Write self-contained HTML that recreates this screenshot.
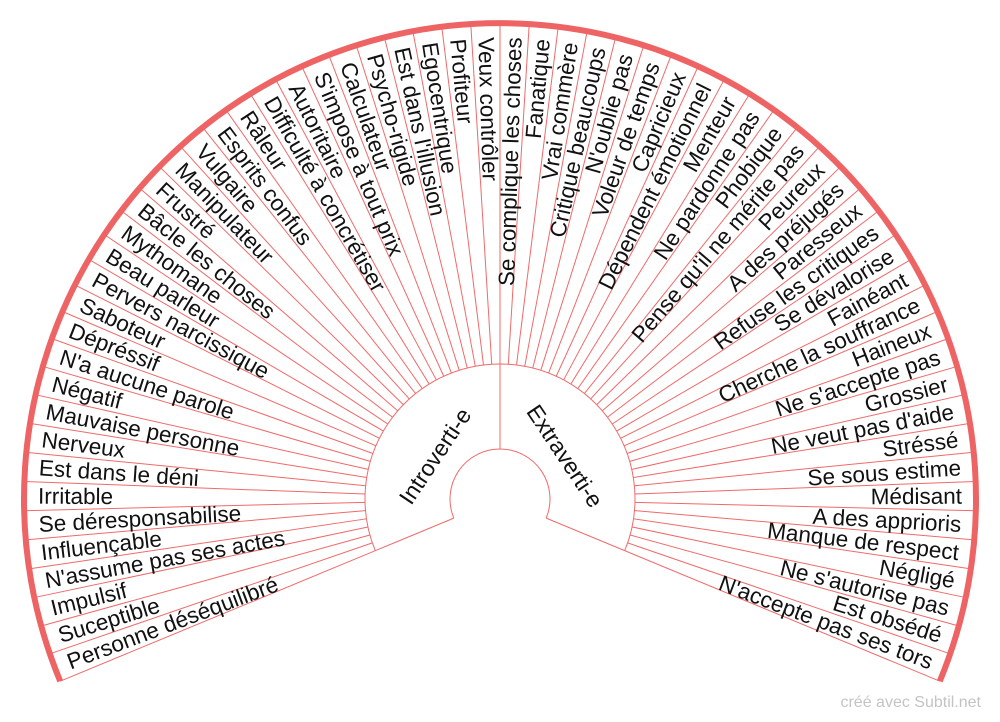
<!DOCTYPE html>
<html><head><meta charset="utf-8"><style>
html,body{margin:0;padding:0;background:#fff;}
svg{display:block;}
text{font-family:"Liberation Sans",Arial,sans-serif;fill:#111;}
.l{font-size:22.5px;dominant-baseline:central;}
</style></head><body>
<svg width="1000" height="722" viewBox="0 0 1000 722" xmlns="http://www.w3.org/2000/svg">
<g transform="translate(500,499)" stroke="#f06a6a" stroke-width="1">
<line x1="50" x2="476" transform="rotate(22.5)"/>
<line x1="135" x2="476" transform="rotate(18.98)"/>
<line x1="135" x2="476" transform="rotate(15.47)"/>
<line x1="135" x2="476" transform="rotate(11.95)"/>
<line x1="135" x2="476" transform="rotate(8.44)"/>
<line x1="135" x2="476" transform="rotate(4.92)"/>
<line x1="135" x2="476" transform="rotate(1.41)"/>
<line x1="135" x2="476" transform="rotate(-2.11)"/>
<line x1="135" x2="476" transform="rotate(-5.63)"/>
<line x1="135" x2="476" transform="rotate(-9.14)"/>
<line x1="135" x2="476" transform="rotate(-12.66)"/>
<line x1="135" x2="476" transform="rotate(-16.17)"/>
<line x1="135" x2="476" transform="rotate(-19.69)"/>
<line x1="135" x2="476" transform="rotate(-23.20)"/>
<line x1="135" x2="476" transform="rotate(-26.72)"/>
<line x1="135" x2="476" transform="rotate(-30.23)"/>
<line x1="135" x2="476" transform="rotate(-33.75)"/>
<line x1="135" x2="476" transform="rotate(-37.27)"/>
<line x1="135" x2="476" transform="rotate(-40.78)"/>
<line x1="135" x2="476" transform="rotate(-44.30)"/>
<line x1="135" x2="476" transform="rotate(-47.81)"/>
<line x1="135" x2="476" transform="rotate(-51.33)"/>
<line x1="135" x2="476" transform="rotate(-54.84)"/>
<line x1="135" x2="476" transform="rotate(-58.36)"/>
<line x1="135" x2="476" transform="rotate(-61.88)"/>
<line x1="135" x2="476" transform="rotate(-65.39)"/>
<line x1="135" x2="476" transform="rotate(-68.91)"/>
<line x1="135" x2="476" transform="rotate(-72.42)"/>
<line x1="135" x2="476" transform="rotate(-75.94)"/>
<line x1="135" x2="476" transform="rotate(-79.45)"/>
<line x1="135" x2="476" transform="rotate(-82.97)"/>
<line x1="135" x2="476" transform="rotate(-86.48)"/>
<line x1="50" x2="476" transform="rotate(-90)"/>
<line x1="135" x2="476" transform="rotate(-93.52)"/>
<line x1="135" x2="476" transform="rotate(-97.03)"/>
<line x1="135" x2="476" transform="rotate(-100.55)"/>
<line x1="135" x2="476" transform="rotate(-104.06)"/>
<line x1="135" x2="476" transform="rotate(-107.58)"/>
<line x1="135" x2="476" transform="rotate(-111.09)"/>
<line x1="135" x2="476" transform="rotate(-114.61)"/>
<line x1="135" x2="476" transform="rotate(-118.13)"/>
<line x1="135" x2="476" transform="rotate(-121.64)"/>
<line x1="135" x2="476" transform="rotate(-125.16)"/>
<line x1="135" x2="476" transform="rotate(-128.67)"/>
<line x1="135" x2="476" transform="rotate(-132.19)"/>
<line x1="135" x2="476" transform="rotate(-135.70)"/>
<line x1="135" x2="476" transform="rotate(-139.22)"/>
<line x1="135" x2="476" transform="rotate(-142.73)"/>
<line x1="135" x2="476" transform="rotate(-146.25)"/>
<line x1="135" x2="476" transform="rotate(-149.77)"/>
<line x1="135" x2="476" transform="rotate(-153.28)"/>
<line x1="135" x2="476" transform="rotate(-156.80)"/>
<line x1="135" x2="476" transform="rotate(-160.31)"/>
<line x1="135" x2="476" transform="rotate(-163.83)"/>
<line x1="135" x2="476" transform="rotate(-167.34)"/>
<line x1="135" x2="476" transform="rotate(-170.86)"/>
<line x1="135" x2="476" transform="rotate(-174.38)"/>
<line x1="135" x2="476" transform="rotate(-177.89)"/>
<line x1="135" x2="476" transform="rotate(-181.41)"/>
<line x1="135" x2="476" transform="rotate(-184.92)"/>
<line x1="135" x2="476" transform="rotate(-188.44)"/>
<line x1="135" x2="476" transform="rotate(-191.95)"/>
<line x1="135" x2="476" transform="rotate(-195.47)"/>
<line x1="135" x2="476" transform="rotate(-198.98)"/>
<line x1="50" x2="476" transform="rotate(-202.5)"/>
</g>
<path d="M375.3 550.7 A135 135 0 1 1 624.7 550.7" fill="none" stroke="#f06a6a" stroke-width="1"/>
<path d="M453.8 518.1 A50 50 0 1 1 546.2 518.1" fill="none" stroke="#f06a6a" stroke-width="1"/>
<path d="M60.2 681.2 A476 476 0 1 1 939.8 681.2" fill="none" stroke="#ee6464" stroke-width="6"/>

<g transform="translate(500,499)" text-anchor="end">
<text class="l" x="462" transform="rotate(-88.24)">Se complique les choses</text>
<text class="l" x="462" transform="rotate(-84.73)">Fanatique</text>
<text class="l" x="462" transform="rotate(-81.21)">Vrai commère</text>
<text class="l" x="462" transform="rotate(-77.70)">Critique beaucoups</text>
<text class="l" x="462" transform="rotate(-74.18)">N'oublie pas</text>
<text class="l" x="462" transform="rotate(-70.66)">Voleur de temps</text>
<text class="l" x="462" transform="rotate(-67.15)">Capricieux</text>
<text class="l" x="462" transform="rotate(-63.63)">Dépendent émotionnel</text>
<text class="l" x="462" transform="rotate(-60.12)">Menteur</text>
<text class="l" x="462" transform="rotate(-56.60)">Ne pardonne pas</text>
<text class="l" x="462" transform="rotate(-53.09)">Phobique</text>
<text class="l" x="462" transform="rotate(-49.57)">Pense qu'il ne mérite pas</text>
<text class="l" x="462" transform="rotate(-46.05)">Peureux</text>
<text class="l" x="462" transform="rotate(-42.54)">A des préjugés</text>
<text class="l" x="462" transform="rotate(-39.02)">Paresseux</text>
<text class="l" x="462" transform="rotate(-35.51)">Refuse les critiques</text>
<text class="l" x="462" transform="rotate(-31.99)">Se dévalorise</text>
<text class="l" x="462" transform="rotate(-28.48)">Fainéant</text>
<text class="l" x="462" transform="rotate(-24.96)">Cherche la souffrance</text>
<text class="l" x="462" transform="rotate(-21.45)">Haineux</text>
<text class="l" x="462" transform="rotate(-17.93)">Ne s'accepte pas</text>
<text class="l" x="462" transform="rotate(-14.41)">Grossier</text>
<text class="l" x="462" transform="rotate(-10.90)">Ne veut pas d'aide</text>
<text class="l" x="462" transform="rotate(-7.38)">Stréssé</text>
<text class="l" x="462" transform="rotate(-3.87)">Se sous estime</text>
<text class="l" x="462" transform="rotate(-0.35)">Médisant</text>
<text class="l" x="462" transform="rotate(3.16)">A des apprioris</text>
<text class="l" x="462" transform="rotate(6.68)">Manque de respect</text>
<text class="l" x="462" transform="rotate(10.20)">Négligé</text>
<text class="l" x="462" transform="rotate(13.71)">Ne s'autorise pas</text>
<text class="l" x="462" transform="rotate(17.23)">Est obsédé</text>
<text class="l" x="462" transform="rotate(20.74)">N'accepte pas ses tors</text>
</g>

<g transform="translate(500,499)" text-anchor="start">
<text class="l" x="-462" transform="rotate(-20.74)">Personne déséquilibré</text>
<text class="l" x="-462" transform="rotate(-17.23)">Suceptible</text>
<text class="l" x="-462" transform="rotate(-13.71)">Impulsif</text>
<text class="l" x="-462" transform="rotate(-10.20)">N'assume pas ses actes</text>
<text class="l" x="-462" transform="rotate(-6.68)">Influençable</text>
<text class="l" x="-462" transform="rotate(-3.16)">Se déresponsabilise</text>
<text class="l" x="-462" transform="rotate(0.35)">Irritable</text>
<text class="l" x="-462" transform="rotate(3.87)">Est dans le déni</text>
<text class="l" x="-462" transform="rotate(7.38)">Nerveux</text>
<text class="l" x="-462" transform="rotate(10.90)">Mauvaise personne</text>
<text class="l" x="-462" transform="rotate(14.41)">Négatif</text>
<text class="l" x="-462" transform="rotate(17.93)">N'a aucune parole</text>
<text class="l" x="-462" transform="rotate(21.45)">Dépréssif</text>
<text class="l" x="-462" transform="rotate(24.96)">Saboteur</text>
<text class="l" x="-462" transform="rotate(28.48)">Pervers narcissique</text>
<text class="l" x="-462" transform="rotate(31.99)">Beau parleur</text>
<text class="l" x="-462" transform="rotate(35.51)">Mythomane</text>
<text class="l" x="-462" transform="rotate(39.02)">Bâcle les choses</text>
<text class="l" x="-462" transform="rotate(42.54)">Frustré</text>
<text class="l" x="-462" transform="rotate(46.05)">Manipulateur</text>
<text class="l" x="-462" transform="rotate(49.57)">Vulgaire</text>
<text class="l" x="-462" transform="rotate(53.09)">Esprits confus</text>
<text class="l" x="-462" transform="rotate(56.60)">Râleur</text>
<text class="l" x="-462" transform="rotate(60.12)">Difficulté à concrétiser</text>
<text class="l" x="-462" transform="rotate(63.63)">Autoritaire</text>
<text class="l" x="-462" transform="rotate(67.15)">S'impose à tout prix</text>
<text class="l" x="-462" transform="rotate(70.66)">Calculateur</text>
<text class="l" x="-462" transform="rotate(74.18)">Psycho-rigide</text>
<text class="l" x="-462" transform="rotate(77.70)">Est dans l'illusion</text>
<text class="l" x="-462" transform="rotate(81.21)">Egocentrique</text>
<text class="l" x="-462" transform="rotate(84.73)">Profiteur</text>
<text class="l" x="-462" transform="rotate(88.24)">Veux contrôler</text>
</g>

<text x="0" y="0" font-size="23" text-anchor="middle" dominant-baseline="central" transform="translate(435,456) rotate(-56.25)">Introverti-e</text>
<text x="0" y="0" font-size="23" text-anchor="middle" dominant-baseline="central" transform="translate(565,456) rotate(56.25)">Extraverti-e</text>

<text x="981" y="707" font-size="16" text-anchor="end" style="fill:#c4c4c4">créé avec Subtil.net</text>
</svg>
</body></html>
